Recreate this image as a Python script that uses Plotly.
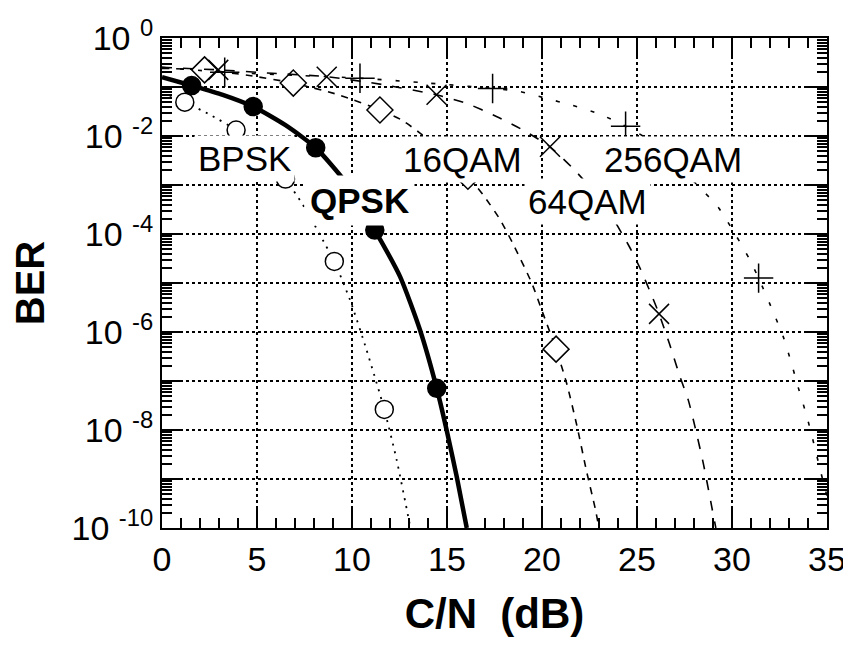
import plotly.graph_objects as go

# ---------------- data (C/N in dB, BER) ----------------
bpsk_line_x = [0.4, 1.2, 2.5, 3.9, 5.2, 6.5, 7.6, 8.6, 9.07, 9.9, 10.77, 11.7, 12.35, 12.96, 13.1]
bpsk_line_y = [10**-1.17, 10**-1.31, 10**-1.56, 10**-1.88, 10**-2.33, 10**-2.88, 10**-3.52, 10**-4.22,
               10**-4.56, 10**-5.35, 10**-6.37, 10**-7.58, 10**-8.61, 10**-9.77, 10**-10.05]
bpsk_mark_x = [1.2, 3.9, 6.5, 9.07, 11.7]
bpsk_mark_y = [10**-1.31, 10**-1.88, 10**-2.88, 10**-4.56, 10**-7.58]

qpsk_line_x = [0.0, 1.56, 3.2, 4.8, 6.5, 8.09, 9.72, 11.2, 12.53, 13.58, 14.46, 14.98, 15.51, 16.04]
qpsk_line_y = [10**-0.80, 10**-0.97, 10**-1.16, 10**-1.40, 10**-1.78, 10**-2.24, 10**-2.97, 10**-3.92,
               10**-4.87, 10**-5.96, 10**-7.15, 10**-8.0, 10**-8.95, 10**-10.0]
qpsk_mark_x = [1.56, 4.8, 8.09, 11.2, 14.46]
qpsk_mark_y = [10**-0.97, 10**-1.40, 10**-2.24, 10**-3.92, 10**-7.15]

qam16_line_x = [0.0, 2.24, 4.5, 6.91, 9.3, 11.47, 12.6, 13.58, 14.8, 16.1, 16.9, 17.8, 18.5, 19.46,
                20.05, 20.74, 21.3, 21.83, 22.35, 22.8, 23.0]
qam16_line_y = [10**-0.62, 10**-0.65, 10**-0.76, 10**-0.92, 10**-1.16, 10**-1.47, 10**-1.67, 10**-1.94,
                10**-2.32, 10**-2.82, 10**-3.2, 10**-3.71, 10**-4.22, 10**-5.0, 10**-5.62, 10**-6.35,
                10**-7.05, 10**-7.9, 10**-8.85, 10**-9.6, 10**-10.0]
qam16_mark_x = [2.24, 6.91, 11.47, 16.1, 20.74]
qam16_mark_y = [10**-0.65, 10**-0.92, 10**-1.47, 10**-2.82, 10**-6.35]

qam64_line_x = [0.0, 2.96, 5.8, 8.67, 11.6, 14.45, 16.0, 17.6, 19.0, 20.42, 21.7, 23.2, 24.6, 25.2,
                25.8, 26.16, 26.7, 27.26, 27.7, 28.05, 28.5, 28.93, 29.15]
qam64_line_y = [10**-0.60, 10**-0.65, 10**-0.72, 10**-0.79, 10**-0.95, 10**-1.16, 10**-1.33, 10**-1.6,
                10**-1.88, 10**-2.22, 10**-2.69, 10**-3.35, 10**-4.26, 10**-4.73, 10**-5.28, 10**-5.63,
                10**-6.23, 10**-6.91, 10**-7.39, 10**-7.93, 10**-8.7, 10**-9.56, 10**-10.0]
qam64_mark_x = [2.96, 8.67, 14.45, 20.42, 26.16]
qam64_mark_y = [10**-0.65, 10**-0.79, 10**-1.16, 10**-2.22, 10**-5.63]

qam256_line_x = [0.0, 3.3, 6.9, 10.42, 14.0, 17.4, 18.8, 20.2, 21.56, 22.95, 24.4, 25.5, 26.8, 28.1,
                 29.3, 30.24, 30.9, 31.4, 32.2, 32.7, 33.1, 33.5, 33.93, 34.25, 34.7, 35.0]
qam256_line_y = [10**-0.60, 10**-0.70, 10**-0.76, 10**-0.82, 10**-0.92, 10**-1.03, 10**-1.09, 10**-1.23,
                 10**-1.37, 10**-1.54, 10**-1.80, 10**-2.05, 10**-2.5, 10**-2.97, 10**-3.47, 10**-4.05,
                 10**-4.5, 10**-4.9, 10**-5.62, 10**-6.1, 10**-6.6, 10**-7.15, 10**-7.71, 10**-8.19,
                 10**-8.9, 10**-9.35]
qam256_mark_x = [3.3, 10.42, 17.4, 24.4, 31.4]
qam256_mark_y = [10**-0.70, 10**-0.82, 10**-1.03, 10**-1.80, 10**-4.9]

label_text = ["BPSK", "<b>QPSK</b>", "16QAM", "256QAM", "64QAM"]
label_x = [4.32, 10.42, 15.79, 26.9, 22.42]
label_y = [-2.45, -3.31, -2.47, -2.47, -3.33]
label_pad = [3, 5, 3, 3, 3]

y_tickvals = [10**-k for k in range(0, 11)]
y_ticktext = ["10 <sup>0</sup>", "", "10 <sup>-2</sup>", "", "10 <sup>-4</sup>", "",
              "10 <sup>-6</sup>", "", "10 <sup>-8</sup>", "", "10 <sup>-10</sup>"]
y_minor_vals = [m * 10**-k for k in range(1, 11) for m in range(2, 10)]

FONT = "Liberation Sans, Arial, Helvetica, sans-serif"
TICK = "black"
fig = go.Figure()

def add_curve(lx, ly, mx, my, dash, width, symbol, msize, mfill):
    fig.add_trace(go.Scatter(x=lx, y=ly, mode="lines",
                             line=dict(color="black", width=width, dash=dash, shape="spline", smoothing=0.6),
                             showlegend=False, hoverinfo="skip"))
    fig.add_trace(go.Scatter(x=mx, y=my, mode="markers",
                             marker=dict(symbol=symbol, size=msize,
                                         color="black" if mfill else "white",
                                         line=dict(color="black", width=1.5)),
                             showlegend=False, cliponaxis=True))

add_curve(bpsk_line_x, bpsk_line_y, bpsk_mark_x, bpsk_mark_y, "2px,6px", 1.8, "circle", 18, False)
add_curve(qam16_line_x, qam16_line_y, qam16_mark_x, qam16_mark_y, "7px,7px", 1.6, "diamond", 20, False)
add_curve(qam64_line_x, qam64_line_y, qam64_mark_x, qam64_mark_y, "10px,11px", 1.6, "x-thin-open", 20, True)
add_curve(qam256_line_x, qam256_line_y, qam256_mark_x, qam256_mark_y, "4px,14px", 1.6, "cross-thin-open", 21, True)
add_curve(qpsk_line_x, qpsk_line_y, qpsk_mark_x, qpsk_mark_y, "solid", 4.5, "circle", 18, True)

for t, x, y, p in zip(label_text, label_x, label_y, label_pad):
    fig.add_annotation(x=x, y=y, xref="x", yref="y", text=t, showarrow=False,
                       font=dict(family=FONT, size=35, color="black"),
                       bgcolor="white", borderpad=p)

fig.update_xaxes(range=[0, 35], tick0=0, dtick=5, ticks="inside", ticklen=20, tickwidth=2,
                 tickcolor=TICK, showline=True, linecolor="black", linewidth=2, mirror="allticks",
                 showgrid=True, gridcolor="black", gridwidth=1.5, griddash="dot", zeroline=False,
                 layer="above traces",
                 minor=dict(ticks="inside", tick0=0, dtick=1, ticklen=10, tickwidth=2,
                            tickcolor=TICK, showgrid=False),
                 tickfont=dict(family=FONT, size=34, color="black"),
                 title=dict(text="<b>C/N  (dB)</b>", font=dict(family=FONT, size=42, color="black"), standoff=22))
fig.update_yaxes(type="log", range=[-10, 0], tickmode="array", tickvals=y_tickvals, ticktext=y_ticktext,
                 ticks="inside", ticklen=20, tickwidth=2, tickcolor=TICK,
                 showline=True, linecolor="black", linewidth=2, mirror="allticks",
                 showgrid=True, gridcolor="black", gridwidth=1.5, griddash="dot", zeroline=False,
                 layer="above traces",
                 minor=dict(ticks="inside", tickmode="array", tickvals=y_minor_vals, ticklen=10,
                            tickwidth=1.5, tickcolor=TICK, showgrid=False),
                 tickfont=dict(family=FONT, size=34, color="black"),
                 title=dict(text="<b>BER</b>", font=dict(family=FONT, size=40, color="black"), standoff=18))

fig.update_layout(width=843, height=649, plot_bgcolor="white", paper_bgcolor="white",
                  margin=dict(l=154, r=24, t=30, b=129, autoexpand=False),
                  font=dict(family=FONT, color="black"), showlegend=False)

fig.write_html("out.html")
